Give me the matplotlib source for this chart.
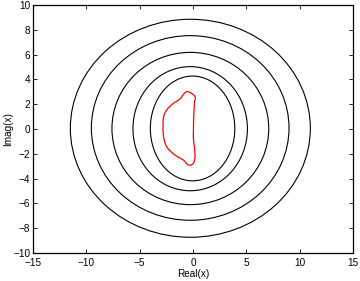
import matplotlib
matplotlib.use("Agg")
import matplotlib.pyplot as plt
import numpy as np
from matplotlib.path import Path
from matplotlib.patches import PathPatch, Ellipse

plt.rcParams['font.family'] = ['Liberation Sans', 'DejaVu Sans']

# black level curves: left/right/bottom/top extents
ring_left = [-11.5, -9.53, -7.6, -5.63, -4.0]
ring_right = [11.0, 9.0, 7.1, 5.1, 3.92]
ring_bottom = [-8.73, -7.36, -6.1, -4.98, -4.18]
ring_top = [8.85, 7.53, 6.18, 5.03, 4.27]

# red curve, points (closed loop)
red_x = [-0.44, 0.19, 0.12, 0.03, 0.19, 0.03, -0.44, -0.91, -1.69, -2.47, -2.78,
         -2.78, -2.47, -1.84, -1.22, -0.81, -0.44]
red_y = [3.01, 2.6, 1.94, -0.48, -2.1, -2.77, -2.9, -2.5, -2.1, -1.43, -0.48,
         0.86, 1.53, 2.07, 2.42, 2.88, 3.01]

xticks = [-15, -10, -5, 0, 5, 10, 15]
yticks = [-10, -8, -6, -4, -2, 0, 2, 4, 6, 8, 10]


def loop_path(xs, ys):
    """Closed Catmull-Rom loop through the read points, as a bezier path."""
    p = np.column_stack([xs, ys])[:-1]
    n = len(p)
    verts = [p[0]]
    codes = [Path.MOVETO]
    for i in range(n):
        p0, p1, p2, p3 = p[i - 1], p[i], p[(i + 1) % n], p[(i + 2) % n]
        verts += [p1 + (p2 - p0) / 6, p2 - (p3 - p1) / 6, p2]
        codes += [Path.CURVE4] * 3
    return Path(verts, codes)


fig = plt.figure(figsize=(3.6, 2.81), dpi=100)
ax = fig.add_axes([0.0917, 0.0996, 0.8889, 0.8826])

for l, r, b, t in zip(ring_left, ring_right, ring_bottom, ring_top):
    ax.add_patch(Ellipse(((l + r) / 2, (b + t) / 2), r - l, t - b,
                         fill=False, edgecolor='black', lw=0.8))
ax.add_patch(PathPatch(loop_path(red_x, red_y), fill=False, edgecolor='red', lw=0.9))

ax.set_xlim(-15, 15)
ax.set_ylim(-10, 10)
ax.set_xticks(xticks)
ax.set_yticks(yticks)
ax.tick_params(direction='in', top=True, right=True, length=3, width=0.6,
               labelsize=7.2, pad=2)
ax.tick_params(axis='x', pad=3.5)
for s in ax.spines.values():
    s.set_linewidth(0.9)
ax.set_xlabel('Real(x)', fontsize=7.2, labelpad=1)
ax.set_ylabel('Imag(x)', fontsize=7.2, labelpad=0)

fig.savefig('out.png', dpi=100)
